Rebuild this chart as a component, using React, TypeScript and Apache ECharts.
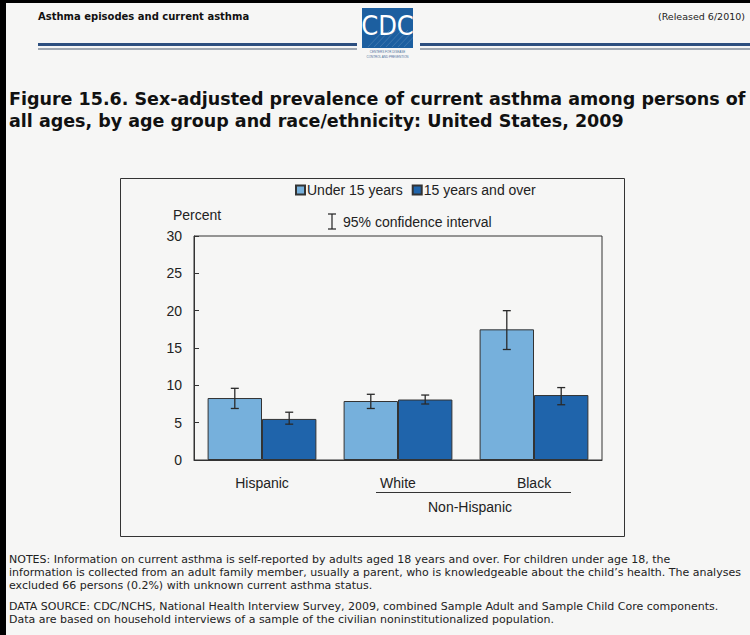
import React, { useEffect, useRef } from "react";
import * as echarts from "echarts";

// Asthma prevalence by race/ethnicity, two age groups, with 95% CIs
const categories = ["Hispanic", "White", "Black"];
const seriesNames = ["Under 15 years", "15 years and over"];
const under15 = [8.3, 7.9, 17.5];
const under15Low = [6.9, 6.9, 14.8];
const under15High = [9.6, 8.8, 20.0];
const over15 = [5.5, 8.1, 8.7];
const over15Low = [4.8, 7.5, 7.4];
const over15High = [6.4, 8.7, 9.7];
const yTicks = [0, 5, 10, 15, 20, 25, 30];

const headerLeft = "Asthma episodes and current asthma";
const headerRight = "(Released 6/2010)";
const titleLines = [
  "Figure 15.6. Sex-adjusted prevalence of current asthma among persons of",
  "all ages, by age group and race/ethnicity: United States, 2009",
];
const noteLines = [
  "NOTES: Information on current asthma is self-reported by adults aged 18 years and over. For children under age 18, the",
  "information is collected from an adult family member, usually a parent, who is knowledgeable about the child\u2019s health. The analyses",
  "excluded 66 persons (0.2%) with unknown current asthma status.",
];
const sourceLines = [
  "DATA SOURCE: CDC/NCHS, National Health Interview Survey, 2009, combined Sample Adult and Sample Child Core components.",
  "Data are based on household interviews of a sample of the civilian noninstitutionalized population.",
];

const LIGHT = "#76b0dc";
const DARK = "#1f64ab";
const INK = "#222";
const ARIAL = "'Liberation Sans', Arial, sans-serif";
const VERDANA = "'DejaVu Sans', Verdana, sans-serif";
const FS = 14;

export default function App() {
  const ref = useRef<HTMLDivElement>(null);

  useEffect(() => {
    if (!ref.current) return;
    const chart = echarts.init(ref.current, null, { renderer: "svg" });

    const errorData: number[][] = [];
    categories.forEach((_, i) => {
      errorData.push([i, under15Low[i], under15High[i], 0]);
      errorData.push([i, over15Low[i], over15High[i], 1]);
    });

    const logoStripes: any[] = [];
    for (let k = 0; k < 7; k++) {
      logoStripes.push({
        type: "line",
        shape: { x1: 368 + k * 6, y1: 47, x2: 384 + k * 6, y2: 30 },
        style: { stroke: "rgba(255,255,255,0.25)", lineWidth: 0.6 },
        silent: true,
      });
    }

    const option: any = {
      animation: false,
      backgroundColor: "#f6f6f5",
      grid: {
        left: 194,
        right: 148,
        top: 236,
        bottom: 175,
        show: true,
        borderColor: "#333",
        borderWidth: 1,
        backgroundColor: "transparent",
      },
      legend: {
        left: 290,
        top: 178,
        itemWidth: 9,
        itemHeight: 9,
        itemGap: 9,
        icon: "rect",
        data: seriesNames,
        textStyle: { fontFamily: ARIAL, fontSize: FS, color: INK, padding: [0, 0, 0, -3] },
      },
      xAxis: {
        type: "category",
        data: categories,
        axisLine: { show: true, lineStyle: { color: "#333", width: 1 } },
        axisTick: { show: false },
        axisLabel: { fontFamily: ARIAL, fontSize: FS, color: INK, margin: 16 },
      },
      yAxis: {
        type: "value",
        min: 0,
        max: 30,
        interval: 5,
        axisLine: { show: true, lineStyle: { color: "#333", width: 1 } },
        axisTick: { show: true, inside: true, length: 5, lineStyle: { color: "#333" } },
        splitLine: { show: false },
        axisLabel: {
          fontFamily: ARIAL,
          fontSize: FS,
          color: INK,
          margin: 12,
          formatter: (v: number) => (yTicks.includes(v) ? String(v) : ""),
        },
      },
      series: [
        {
          name: seriesNames[0],
          type: "bar",
          data: under15,
          barGap: "0%",
          barCategoryGap: "20%",
          itemStyle: { color: LIGHT, borderColor: "#333", borderWidth: 1 },
        },
        {
          name: seriesNames[1],
          type: "bar",
          data: over15,
          barGap: "0%",
          barCategoryGap: "20%",
          itemStyle: { color: DARK, borderColor: "#333", borderWidth: 1 },
        },
        {
          type: "custom",
          data: errorData,
          z: 10,
          silent: true,
          renderItem: (params: any, api: any) => {
            const idx = api.value(0);
            const lo = api.coord([idx, api.value(1)]);
            const hi = api.coord([idx, api.value(2)]);
            const band = api.size([1, 0])[0];
            const barW = (band * 0.8) / 2;
            const x = lo[0] + (api.value(3) === 0 ? -barW / 2 : barW / 2);
            const cap = 4;
            const st = { stroke: "#2a2a2a", lineWidth: 1.3 };
            return {
              type: "group",
              children: [
                { type: "line", shape: { x1: x, y1: lo[1], x2: x, y2: hi[1] }, style: st },
                { type: "line", shape: { x1: x - cap, y1: lo[1], x2: x + cap, y2: lo[1] }, style: st },
                { type: "line", shape: { x1: x - cap, y1: hi[1], x2: x + cap, y2: hi[1] }, style: st },
              ],
            };
          },
        },
      ],
      graphic: [
        // scan edges
        { type: "rect", shape: { x: 0, y: 0, width: 6, height: 635 }, style: { fill: "#000" }, silent: true },
        { type: "rect", shape: { x: 0, y: 0, width: 750, height: 3 }, style: { fill: "#000" }, silent: true },
        // page header
        {
          type: "text",
          x: 38,
          y: 16,
          style: { text: headerLeft, font: `bold 10px ${VERDANA}`, fill: "#111", textVerticalAlign: "middle" },
        },
        {
          type: "text",
          x: 745,
          y: 16,
          style: { text: headerRight, font: `9.5px ${VERDANA}`, fill: "#222", textAlign: "right", textVerticalAlign: "middle" },
        },
        { type: "rect", shape: { x: 38, y: 43, width: 319, height: 3 }, style: { fill: "#2d4f7f" }, silent: true },
        { type: "rect", shape: { x: 38, y: 48.5, width: 319, height: 1 }, style: { fill: "#4a5a70" }, silent: true },
        { type: "rect", shape: { x: 420, y: 43, width: 330, height: 3 }, style: { fill: "#2d4f7f" }, silent: true },
        { type: "rect", shape: { x: 420, y: 48.5, width: 330, height: 1 }, style: { fill: "#4a5a70" }, silent: true },
        // CDC mark
        { type: "rect", shape: { x: 362, y: 8, width: 51, height: 40 }, style: { fill: "#1c5fa0" }, silent: true },
        ...logoStripes,
        {
          type: "text",
          x: 387.5,
          y: 25,
          style: {
            text: "CDC",
            font: `27px 'DejaVu Sans Condensed', 'DejaVu Sans', sans-serif`,
            fill: "#fff",
            textAlign: "center",
            textVerticalAlign: "middle",
          },
        },
        {
          type: "text",
          x: 387.5,
          y: 52,
          style: { text: "CENTERS FOR DISEASE", font: `3px ${ARIAL}`, fill: "#4a6f9a", textAlign: "center", textVerticalAlign: "middle" },
        },
        {
          type: "text",
          x: 387.5,
          y: 57,
          style: { text: "CONTROL AND PREVENTION", font: `3px ${ARIAL}`, fill: "#4a6f9a", textAlign: "center", textVerticalAlign: "middle" },
        },
        // figure title
        ...titleLines.map((t, i) => ({
          type: "text",
          x: 9,
          y: 99 + i * 22,
          style: { text: t, font: `bold 17.5px ${VERDANA}`, fill: "#111", textVerticalAlign: "middle" },
        })),
        // chart frame
        {
          type: "rect",
          shape: { x: 120.5, y: 178.5, width: 504, height: 358 },
          style: { fill: "none", stroke: "#333", lineWidth: 1 },
          silent: true,
        },
        {
          type: "text",
          x: 173,
          y: 215,
          style: { text: "Percent", font: `${FS}px ${ARIAL}`, fill: INK, textVerticalAlign: "middle" },
        },
        // confidence-interval key
        { type: "line", shape: { x1: 332, y1: 214, x2: 332, y2: 229 }, style: { stroke: "#222", lineWidth: 1.2 } },
        { type: "line", shape: { x1: 328, y1: 214, x2: 336, y2: 214 }, style: { stroke: "#222", lineWidth: 1.2 } },
        { type: "line", shape: { x1: 328, y1: 229, x2: 336, y2: 229 }, style: { stroke: "#222", lineWidth: 1.2 } },
        {
          type: "text",
          x: 343,
          y: 222,
          style: { text: "95% confidence interval", font: `${FS}px ${ARIAL}`, fill: INK, textVerticalAlign: "middle" },
        },
        // Non-Hispanic grouping
        { type: "line", shape: { x1: 376, y1: 492.5, x2: 571, y2: 492.5 }, style: { stroke: "#333", lineWidth: 1 } },
        {
          type: "text",
          x: 470,
          y: 507,
          style: { text: "Non-Hispanic", font: `${FS}px ${ARIAL}`, fill: INK, textAlign: "center", textVerticalAlign: "middle" },
        },
        // notes
        ...noteLines.map((t, i) => ({
          type: "text",
          x: 9,
          y: 559 + i * 13.3,
          style: { text: t, font: `11px ${VERDANA}`, fill: "#222", textVerticalAlign: "middle" },
        })),
        ...sourceLines.map((t, i) => ({
          type: "text",
          x: 9,
          y: 606 + i * 13.3,
          style: { text: t, font: `11px ${VERDANA}`, fill: "#222", textVerticalAlign: "middle" },
        })),
      ],
    };

    chart.setOption(option);
    return () => chart.dispose();
  }, []);

  return (
    <div
      ref={ref}
      style={{ position: "absolute", left: 0, top: 0, width: 750, height: 635 }}
    />
  );
}
